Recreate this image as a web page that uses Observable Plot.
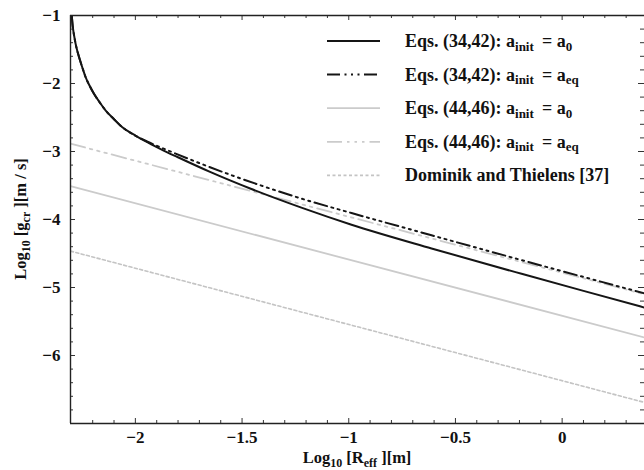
<!DOCTYPE html>
<html><head><meta charset="utf-8">
<script src="https://cdn.jsdelivr.net/npm/d3@7"></script>
<script src="https://cdn.jsdelivr.net/npm/@observablehq/plot@0.6"></script>
<style>
body{margin:0;background:#fff;}
#wrap{width:644px;height:470px;}
</style></head><body><div id="wrap"></div>
<script>
// ---- data ----
const xDomain = [-2.304, 0.386];
const yDomain = [-7, -1];
const xMajor = [-2, -1.5, -1, -0.5, 0];
const xMajorLabels = ["−2", "−1.5", "−1", "−0.5", "0"];
const xMinor = [-2.2, -2.1, -1.9, -1.8, -1.7, -1.6, -1.4, -1.3, -1.2, -1.1, -0.9, -0.8, -0.7, -0.6, -0.4, -0.3, -0.2, -0.1, 0.1, 0.2, 0.3];
const yMajor = [-1, -2, -3, -4, -5, -6];
const yMajorLabels = ["−1", "−2", "−3", "−4", "−5", "−6"];
const yMinor = [-1.2, -1.4, -1.6, -1.8, -2.2, -2.4, -2.6, -2.8, -3.2, -3.4, -3.6, -3.8, -4.2, -4.4, -4.6, -4.8, -5.2, -5.4, -5.6, -5.8, -6.2, -6.4, -6.6, -6.8];

// Eqs. (34,42): a_init = a_0  (black solid)
const solidX = [-2.298, -2.294, -2.289, -2.284, -2.280, -2.270, -2.259, -2.247, -2.233, -2.215, -2.194, -2.170, -2.139, -2.100, -2.061, -2.000, -1.940, -1.870, -1.803, -1.650, -1.456, -1.222, -0.987, -0.612, -0.190, 0.100, 0.386];
const solidY = [-1.00, -1.15, -1.26, -1.35, -1.417, -1.545, -1.662, -1.78, -1.908, -2.03, -2.152, -2.265, -2.398, -2.525, -2.644, -2.766, -2.871, -2.982, -3.081, -3.30, -3.552, -3.826, -4.077, -4.426, -4.799, -5.050, -5.295];
// Eqs. (34,42): a_init = a_eq (black dash-dot-dot)
const eqX = [-2.298, -2.294, -2.289, -2.284, -2.280, -2.270, -2.259, -2.247, -2.233, -2.215, -2.194, -2.170, -2.139, -2.100, -2.061, -2.000, -1.940, -1.831, -1.737, -1.550, -1.378, -1.206, -0.987, -0.612, -0.170, 0.386];
const eqY = [-1.00, -1.15, -1.26, -1.35, -1.417, -1.545, -1.662, -1.78, -1.908, -2.03, -2.152, -2.265, -2.398, -2.525, -2.644, -2.766, -2.860, -3.005, -3.125, -3.348, -3.535, -3.708, -3.905, -4.232, -4.615, -5.087];
// Eqs. (44,46): a_init = a_0 (gray solid)
const g0X = [-2.304, 0.386];
const g0Y = [-3.51, -5.735];
// Eqs. (44,46): a_init = a_eq (gray dash-dot-dot)
const geqX = [-2.304, 0.386];
const geqY = [-2.885, -5.10];
// Dominik and Thielens [37] (gray dotted)
const dtX = [-2.304, 0.386];
const dtY = [-4.465, -6.69];

const seriesNames = [
  ["Eqs. (34,42): a", "init", " = a", "0"],
  ["Eqs. (34,42): a", "init", " = a", "eq"],
  ["Eqs. (44,46): a", "init", " = a", "0"],
  ["Eqs. (44,46): a", "init", " = a", "eq"],
  ["Dominik and Thielens [37]"]
];

// ---- styles ----
const black = "#151515";
const gray = "#cbcbcb";
const dashDot = "13,4.5,2,4.5,2,4.5,2,4.5";
const grayDashDot = "15,5,2.5,5,2.5,5,2.5,5";
const dotted = "3,2.5";
const styles = [
  {stroke: black, strokeWidth: 2, dash: null},
  {stroke: black, strokeWidth: 2, dash: dashDot},
  {stroke: gray, strokeWidth: 1.8, dash: null},
  {stroke: gray, strokeWidth: 1.8, dash: grayDashDot},
  {stroke: "#c4c4c4", strokeWidth: 1.6, dash: dotted}
];

const toRows = (xs, ys) => xs.map((x, i) => ({x, y: ys[i]}));
const sets = [toRows(solidX, solidY), toRows(eqX, eqY), toRows(g0X, g0Y), toRows(geqX, geqY), toRows(dtX, dtY)];

const W = 644, H = 470, mL = 70, mR = 0, mT = 15, mB = 47;
const plotH = H - mT - mB, plotW = W - mL - mR;
const majorLen = 5, minorLen = 3;
const tickColor = "#333";
const font = "'Liberation Serif','Times New Roman',serif";

const lineMark = (data, s) => Plot.line(data, {x: "x", y: "y", stroke: s.stroke, strokeWidth: s.strokeWidth, strokeDasharray: s.dash ?? undefined, curve: "monotone-x", clip: true});

const chart = Plot.plot({
  width: W, height: H,
  marginLeft: mL, marginRight: mR, marginTop: mT, marginBottom: mB,
  style: {fontFamily: font, fontSize: "17px", fontWeight: "bold", background: "#fff", color: "#111"},
  x: {domain: xDomain},
  y: {domain: yDomain},
  marks: [
    lineMark(sets[4], styles[4]),
    lineMark(sets[2], styles[2]),
    lineMark(sets[3], styles[3]),
    lineMark(sets[0], styles[0]),
    lineMark(sets[1], styles[1]),
    // inward ticks: bottom & top
    Plot.ruleX(xMajor, {stroke: tickColor, strokeWidth: 1, insetTop: plotH - majorLen}),
    Plot.ruleX(xMinor, {stroke: tickColor, strokeWidth: 1, insetTop: plotH - minorLen}),
    Plot.ruleX(xMajor, {stroke: tickColor, strokeWidth: 1, insetBottom: plotH - majorLen}),
    Plot.ruleX(xMinor, {stroke: tickColor, strokeWidth: 1, insetBottom: plotH - minorLen}),
    // inward ticks: left & right
    Plot.ruleY(yMajor, {stroke: tickColor, strokeWidth: 1, insetRight: plotW - majorLen}),
    Plot.ruleY(yMinor, {stroke: tickColor, strokeWidth: 1, insetRight: plotW - minorLen}),
    Plot.ruleY(yMajor, {stroke: tickColor, strokeWidth: 1, insetLeft: plotW - majorLen - 1}),
    Plot.ruleY(yMinor, {stroke: tickColor, strokeWidth: 1, insetLeft: plotW - minorLen - 1}),
    // frame (left, top, bottom)
    Plot.ruleX([xDomain[0]], {stroke: "#222", strokeWidth: 1.4}),
    Plot.ruleY([yDomain[1]], {stroke: "#222", strokeWidth: 1.4}),
    Plot.ruleY([yDomain[0]], {stroke: "#222", strokeWidth: 1.4}),
    // tick labels
    Plot.axisX(xMajor, {tickSize: 0, tickPadding: 7, tickFormat: (d) => xMajorLabels[xMajor.indexOf(d)], label: null}),
    Plot.axisY(yMajor, {tickSize: 0, tickPadding: 10, tickFormat: (d) => yMajorLabels[yMajor.indexOf(d)], label: null})
  ]
});

document.getElementById("wrap").appendChild(chart);

// ---- axis titles & legend (text with subscripts) ----
const svg = d3.select(chart);
const xs = chart.scale("x"), ys = chart.scale("y");
const cx = (xs.range[0] + xs.range[1]) / 2;
const cy = (ys.range[0] + ys.range[1]) / 2;

function addSubText(sel, parts, bigSize, subSize, shift) {
  parts.forEach((p, i) => {
    const isSub = i % 2 === 1;
    sel.append("tspan")
      .attr("font-size", isSub ? subSize : bigSize)
      .attr("dy", isSub ? shift : (i === 0 ? 0 : -shift))
      .text(p);
  });
}

const xt = svg.append("text").attr("x", cx).attr("y", 463).attr("text-anchor", "middle")
  .attr("font-family", font).attr("font-weight", "bold").attr("fill", "#111");
addSubText(xt, ["Log", "10", "\u2005[R", "eff", "\u2005][m]"], 16.5, 12, 4);

const yt = svg.append("text").attr("transform", `translate(26,${cy}) rotate(-90)`).attr("text-anchor", "middle")
  .attr("font-family", font).attr("font-weight", "bold").attr("fill", "#111");
addSubText(yt, ["Log", "10", "\u2005[g", "cr", "\u2005][m / s]"], 16.5, 12, 4);

const legX1 = 327, legX2 = 380, legTx = 405, legY0 = 41, legDy = 33.6;
seriesNames.forEach((parts, i) => {
  const y = legY0 + i * legDy;
  const s = styles[i];
  svg.append("line").attr("x1", legX1).attr("x2", legX2).attr("y1", y).attr("y2", y)
    .attr("stroke", s.stroke).attr("stroke-width", s.strokeWidth)
    .attr("stroke-dasharray", s.dash);
  const t = svg.append("text").attr("x", legTx).attr("y", y + 6).attr("text-anchor", "start")
    .attr("font-family", font).attr("font-weight", "bold").attr("fill", "#111");
  addSubText(t, parts.map((p, j) => j === 2 ? " \u2009= a" : p), 18, 13, 3.5);
});
</script>
</body></html>
